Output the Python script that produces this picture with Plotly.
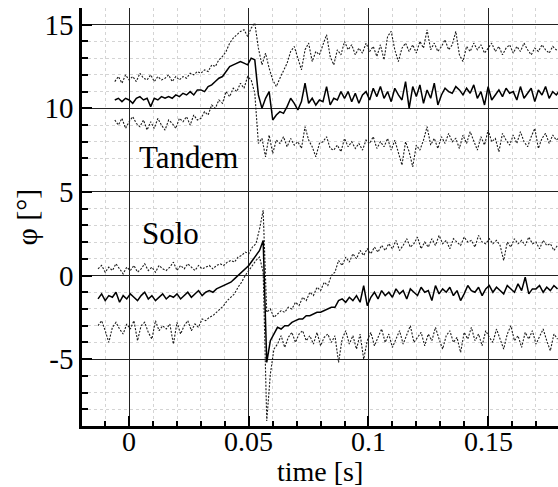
import numpy as np
import plotly.graph_objects as go

# time base (s)
tandem_t0 = -0.006
solo_t0 = -0.013
dt = 0.0015

tandem_mean = [
    10.5, 10.6, 10.4, 10.6, 10.5, 10.3, 10.6, 10.7, 10.5, 10.6, 10.1, 10.6, 10.5, 10.7,
    10.6, 10.7, 10.6, 10.8, 10.7, 10.9, 10.8, 11.0, 10.8, 11.1,
    11.1, 11.0, 11.3, 11.4, 11.6, 11.8, 11.9, 12.2, 12.5, 12.6,
    12.7, 12.8, 12.7, 12.6, 13.0, 12.9,
    10.8, 10.0, 10.6, 11.0, 9.3, 9.6, 9.8, 9.7, 10.1, 10.6, 10.3, 9.9, 10.4, 11.5, 10.3,
    10.6, 10.2, 10.5, 10.4, 11.3, 10.2, 10.6, 10.5, 11.0, 10.6, 11.0, 10.4, 10.9, 10.3, 10.8, 11.0,
    10.5, 11.2, 10.7, 11.3, 10.6, 11.0, 10.4, 11.2, 10.8, 10.5,
    11.6, 10.0, 11.3, 10.7, 11.4, 10.3, 11.1, 10.6, 11.5, 10.2,
    10.8, 11.2, 11.0, 10.9, 11.3, 11.1, 10.8, 11.2, 10.9, 11.4,
    10.6, 11.0, 10.2, 11.3, 10.5, 10.8, 11.1, 10.7, 11.2, 10.9,
    11.0, 10.5, 11.3, 10.6, 10.9, 11.2, 10.4, 11.1, 10.8, 11.3,
    10.6, 11.0, 10.8, 11.1,
]
tandem_upper = [
    11.6, 11.9, 11.5, 12.0, 11.7, 11.9, 11.6, 12.1, 11.8, 11.7, 12.0, 11.6, 11.9, 11.7,
    11.8, 12.0, 11.6, 11.9, 11.7, 11.9, 11.8, 12.1, 12.0, 12.2,
    12.1, 12.3, 12.2, 12.6, 12.5, 12.9, 13.1, 13.4, 13.9, 14.2,
    14.4, 14.6, 14.7, 14.3, 14.8, 15.1,
    13.6, 12.6, 13.3, 12.4, 11.7, 11.3, 11.8, 12.3, 12.7, 13.4, 13.7, 13.0, 12.3, 13.5, 13.9,
    12.8, 13.4, 13.2, 13.8, 14.4, 13.1, 12.6, 13.5, 13.2, 14.0, 13.5, 13.8, 13.2, 13.6, 13.3, 13.9,
    13.4, 13.7, 13.1, 13.8, 12.9, 14.3, 14.6, 13.5, 12.8, 13.6,
    13.9, 13.4, 13.8, 13.3, 14.0, 13.6, 14.7, 13.5, 13.9, 13.4,
    13.7, 14.1, 13.5, 13.8, 14.6, 13.2, 12.8, 13.7, 13.4, 13.9,
    13.5, 13.8, 13.3, 13.6, 13.9, 13.4, 13.7, 13.2, 13.6, 13.8,
    13.3, 13.7, 13.4, 13.9, 13.5, 13.2, 13.6, 13.4, 13.8, 13.5,
    13.3, 13.7, 13.5, 13.6,
]
tandem_lower = [
    9.3, 9.0, 9.4, 8.8, 9.2, 9.5, 9.1, 8.9, 9.3, 8.7, 9.2, 8.8, 9.4, 9.0,
    8.7, 9.3, 9.1, 8.8, 9.4, 9.2, 9.5, 9.0, 9.6, 9.3,
    9.4, 9.8, 9.6, 10.2, 10.0, 10.5, 10.3, 11.0, 10.7, 11.2,
    11.0, 11.5, 11.2, 11.9, 11.7, 10.9,
    7.9, 8.2, 7.1, 8.4, 7.3, 8.1, 7.9, 8.3, 7.7, 8.2, 7.8, 8.0, 7.6, 8.9, 8.1,
    7.7, 7.1, 7.9, 8.0, 8.3, 7.6, 7.5, 7.8, 7.4, 8.2, 7.7, 8.0, 7.6, 7.9, 7.5, 8.1,
    7.9, 8.3, 7.6, 8.0, 7.7, 8.2, 7.5, 8.1, 7.3, 6.6,
    8.0, 7.4, 6.5, 7.8, 7.5, 8.1, 8.9, 7.8, 8.2, 7.6,
    8.3, 7.9, 8.5, 8.0, 8.2, 7.6, 8.4, 7.9, 8.6, 8.1,
    7.5, 8.3, 7.8, 8.7, 8.0, 8.2, 7.4, 8.5, 8.1, 7.8,
    8.4, 7.9, 8.6, 8.0, 7.7, 8.3, 8.8, 7.6, 8.2, 8.5,
    7.9, 8.4, 8.1, 8.3,
]

solo_mean = [
    -1.4, -1.1, -1.5, -1.2, -1.3, -1.0, -1.6, -1.2, -1.4, -1.1,
    -1.3, -1.5, -1.2, -1.0, -1.4, -1.2, -1.5, -1.3, -1.1, -1.4,
    -1.2, -1.3, -1.1, -1.4, -1.2, -1.0, -1.3, -1.1, -0.9, -1.2,
    -1.0, -0.9, -1.0, -0.8, -0.7, -0.6, -0.5, -0.4, -0.2, 0.0, 0.2, 0.4, 0.6, 0.9, 1.2, 1.5, 2.1,
    -5.2, -3.9, -3.5, -3.1, -3.2, -3.0, -3.0, -2.8, -2.7, -2.6, -2.6, -2.4, -2.4, -2.3,
    -2.2, -2.2, -2.1, -2.0, -1.9, -1.9, -1.5, -1.4, -1.6, -1.3, -1.5, -1.2, -1.6, -0.6,
    -1.8, -1.3, -1.0, -1.4, -0.9, -1.2,
    -1.0, -1.3, -0.8, -1.1, -0.9, -1.4, -0.8, -1.0, -1.2, -0.7,
    -1.0, -0.9, -1.5, -0.6, -1.1, -0.8, -1.0, -0.7, -1.2, -0.9,
    -1.5, -1.1, -0.6, -0.9, -1.0, -0.7, -1.2, -0.8, -0.6, -1.0,
    -0.7, -0.9, -1.1, -0.6, -0.8, -1.0, -0.5, -0.9, -0.1, -1.1,
    -0.8, -0.8, -0.6, -1.0, -0.7, -0.9, -0.6, -0.8,
]
solo_upper = [
    0.4, 0.6, 0.2, 0.5, 0.3, 0.7, 0.4, 0.1, 0.5, 0.3,
    0.6, 0.2, 0.4, 0.7, 0.3, 0.5, 0.2, 0.6, 0.4, 0.3,
    0.5, 0.8, 0.3, 0.6, 0.4, 0.7, 0.5, 0.3, 0.6, 0.4,
    0.5, 0.6, 0.4, 0.6, 0.7, 0.6, 0.8, 0.9, 0.8, 1.1, 1.2, 1.4, 1.3, 1.7, 1.9, 2.8, 3.9,
    -2.2, -2.0, -2.5, -2.3, -2.1, -2.2, -1.9, -2.0, -1.6, -1.8, -1.3, -1.5, -1.0, -1.2,
    -0.7, -0.9, -0.4, -0.6, 0.0, 0.2, 0.9, 0.6, 1.1, 0.8, 1.3, 1.0, 1.5, 1.2,
    1.6, 1.3, 1.7, 1.4, 1.8, 1.5,
    1.9, 1.6, 2.1, 1.5, 1.8, 2.2, 1.7, 1.9, 2.3, 1.6,
    2.0, 1.7, 2.2, 1.8, 2.4, 1.9, 2.1, 1.6, 2.2, 2.0,
    1.8, 2.3, 2.0, 2.1, 1.7, 2.4, 2.0, 1.9, 2.2, 1.9,
    2.1, 1.8, 0.9, 2.0, 1.7, 2.2, 1.9, 2.1, 1.8, 2.3,
    1.9, 2.0, 1.6, 2.1, 1.8, 1.9, 1.5, 1.8,
]
solo_lower = [
    -3.0, -2.7, -3.3, -4.0, -3.1, -2.8, -3.2, -3.5, -2.9, -3.2,
    -2.7, -3.9, -3.0, -2.8, -3.4, -3.8, -2.7, -3.3, -3.0, -3.2,
    -2.9, -4.1, -2.8, -3.5, -3.0, -2.7, -3.3, -2.9, -3.1, -2.6,
    -2.7, -2.5, -2.4, -2.2, -2.0, -1.8, -1.5, -1.3, -1.1, -0.7, -0.4, 0.0, 0.3, 0.6, 0.9, 1.1, 0.2,
    -8.7, -5.9, -4.4, -4.1, -3.6, -4.3, -3.7, -3.4, -4.0, -3.5, -3.3, -3.9, -3.6, -4.1,
    -3.4, -4.2, -3.7, -3.5, -4.0, -3.6, -5.2, -3.8, -3.3, -4.1, -3.6, -4.4, -3.5, -5.0,
    -3.9, -3.4, -4.2, -3.7, -3.2, -4.0,
    -3.5, -4.3, -3.8, -3.3, -4.1, -3.6, -3.0, -4.0, -3.7, -3.4,
    -4.2, -3.5, -3.9, -3.1, -3.8, -4.4, -3.6, -3.3, -4.0, -3.7,
    -4.6, -3.4, -3.8, -3.1, -3.9, -3.5, -4.2, -3.3, -3.7, -4.0,
    -3.2, -3.8, -4.4, -3.5, -3.0, -3.9, -3.6, -4.3, -3.4, -3.8,
    -3.3, -4.1, -3.6, -3.2, -3.9, -4.5, -3.5, -3.8,
]

x_tickvals = [0, 0.05, 0.1, 0.15]
x_ticktext = ["0", "0.05", "0.1", "0.15"]
y_tickvals = [-5, 0, 5, 10, 15]
y_ticktext = ["-5", "0", "5", "10", "15"]
labels = [("Tandem", 0.0031, 7.05), ("Solo", 0.0044, 2.5)]
x_title = "time [s]"
y_title = "φ [°]"

FONT = "Liberation Serif"

def tbase(t0, n):
    return t0 + dt * np.arange(n)

fig = go.Figure()
series = [
    (tandem_t0, tandem_upper, "dot"), (tandem_t0, tandem_lower, "dot"),
    (solo_t0, solo_upper, "dot"), (solo_t0, solo_lower, "dot"),
    (tandem_t0, tandem_mean, "solid"), (solo_t0, solo_mean, "solid"),
]
for t0, vals, dash in series:
    fig.add_trace(go.Scatter(
        x=tbase(t0, len(vals)), y=vals, mode="lines",
        line=dict(color="black" if dash == "solid" else "#1a1a1a",
                  width=1.5 if dash == "solid" else 1.1,
                  dash="solid" if dash == "solid" else "2px,1.5px"),
        showlegend=False, hoverinfo="skip"))

for txt, xx, yy in labels:
    fig.add_annotation(x=xx, y=yy, text=txt, showarrow=False, xanchor="left",
                       yanchor="middle", font=dict(family=FONT, size=31, color="black"))

# x tick labels placed at the axis' tick values (slightly tighter than plotly's default)
for v, s in zip(x_tickvals, x_ticktext):
    fig.add_annotation(x=v, xref="x", y=0, yref="paper", yanchor="top", yshift=2,
                       text=s, showarrow=False, font=dict(family=FONT, size=28, color="black"))
fig.add_annotation(x=0.5, xref="paper", y=0, yref="paper", yanchor="top", yshift=-28,
                   text=x_title, showarrow=False, font=dict(family=FONT, size=28, color="black"))
fig.add_annotation(x=0, xref="paper", y=0.5, yref="paper", xanchor="right", yanchor="middle",
                   xshift=-38, textangle=-90, text=y_title, showarrow=False,
                   font=dict(family=FONT, size=30, color="black"))

axis_common = dict(
    showline=True, linecolor="black", linewidth=2.5, mirror=False,
    showgrid=True, gridcolor="#222", gridwidth=1, zeroline=False,
    ticks="inside", ticklen=10, tickwidth=2, tickcolor="black",
    tickfont=dict(family=FONT, size=29, color="black"),
)
fig.update_xaxes(
    range=[-0.0197, 0.1792], tickmode="array", tickvals=x_tickvals, showticklabels=False,
    **axis_common,
    minor=dict(dtick=0.01, tick0=0, ticks="inside", ticklen=5, tickwidth=1.5,
               tickcolor="black", showgrid=True, gridcolor="#d4d4d4", griddash="dot", gridwidth=1),
)
fig.update_yaxes(
    range=[-9, 16], tickmode="array", tickvals=y_tickvals, ticktext=y_ticktext, **axis_common,
    minor=dict(dtick=1, tick0=0, ticks="inside", ticklen=6, tickwidth=1.5,
               tickcolor="black", showgrid=True, gridcolor="#d4d4d4", griddash="dot", gridwidth=1),
)
fig.update_layout(
    width=558, height=487, margin=dict(l=82, r=0, t=8, b=61),
    paper_bgcolor="white", plot_bgcolor="white",
    font=dict(family=FONT, size=29, color="black"),
)
fig.write_html("out.html")
